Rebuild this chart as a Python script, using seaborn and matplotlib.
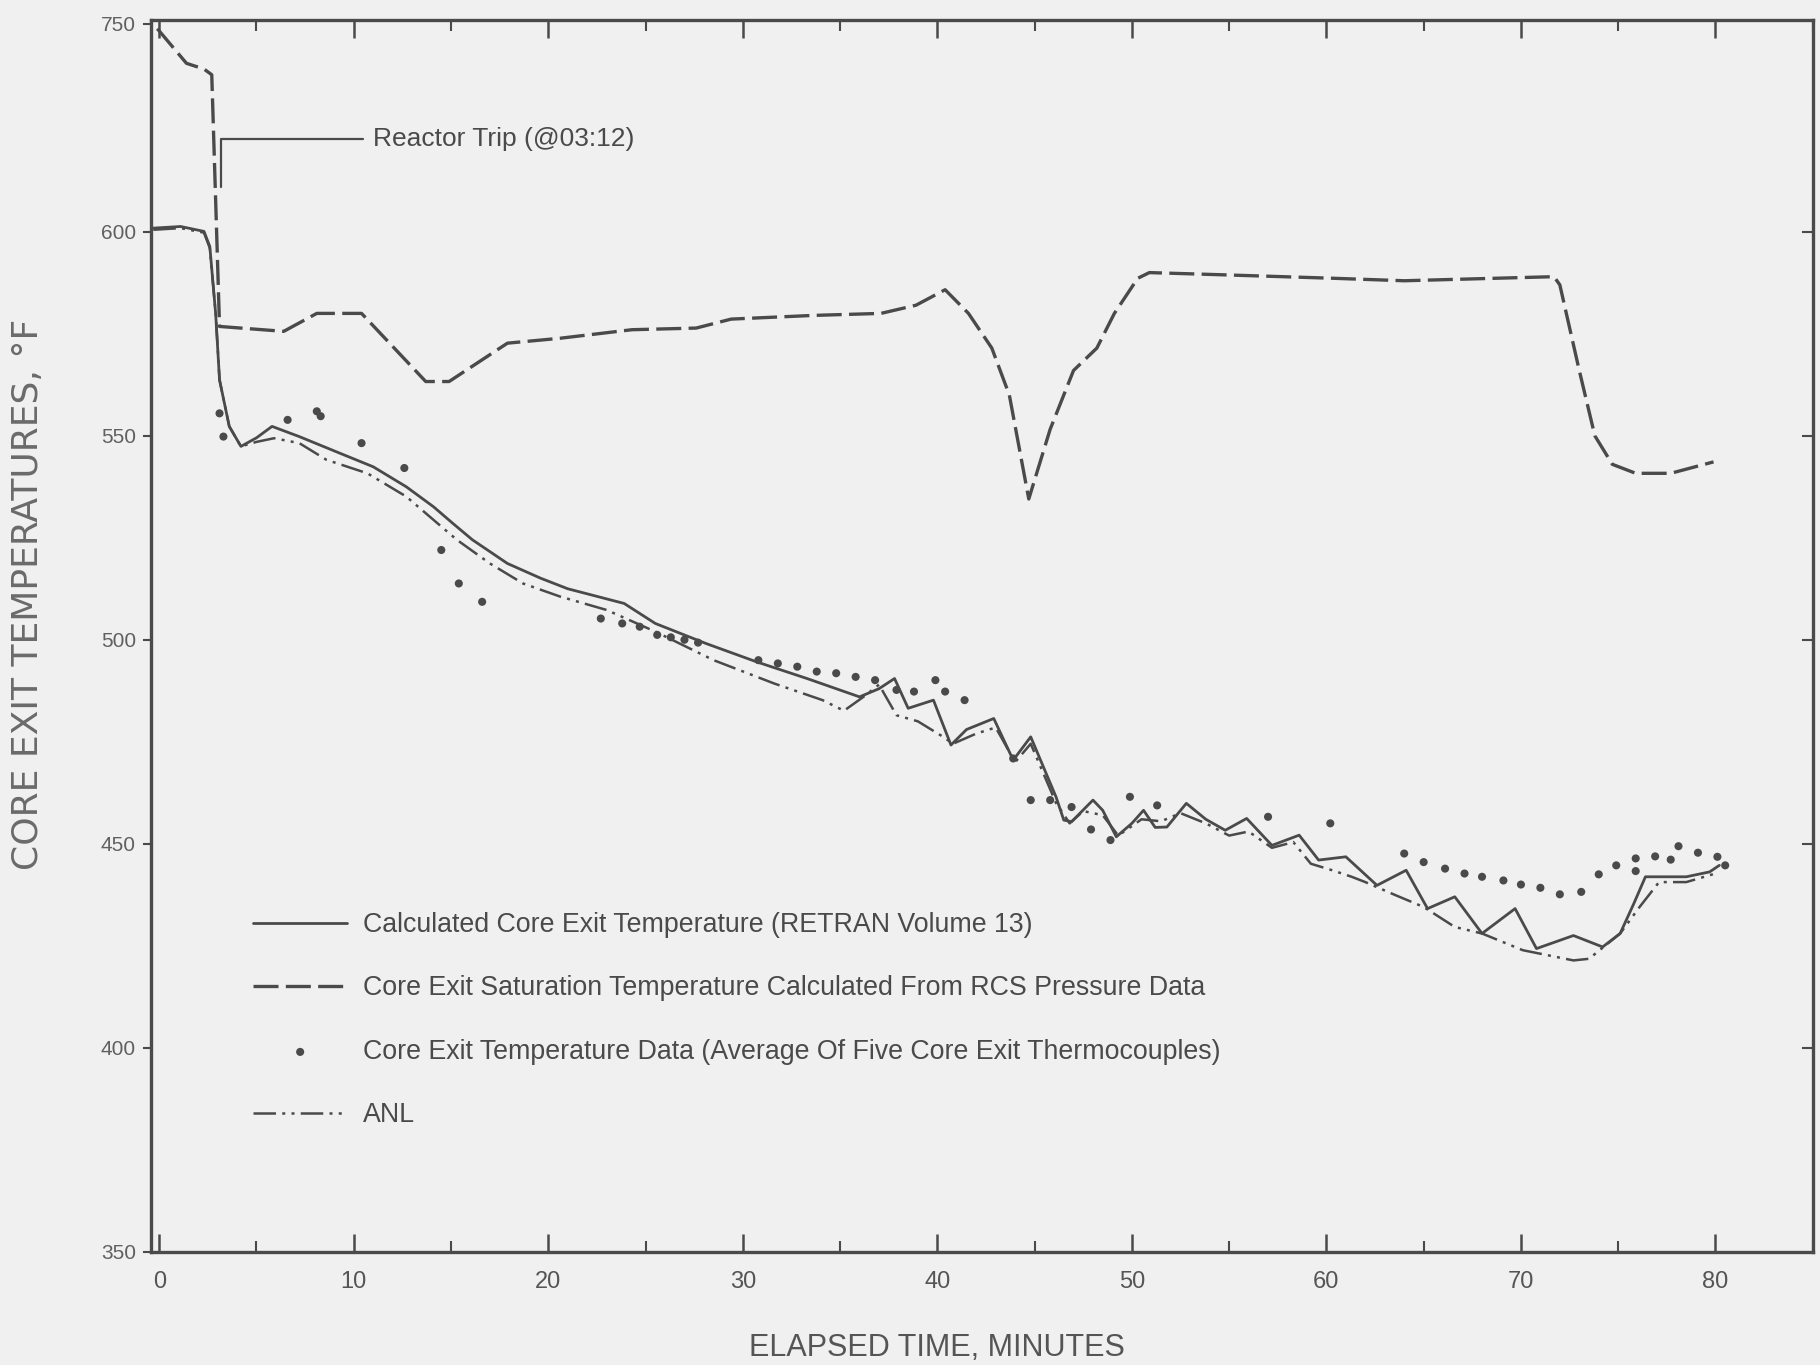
import matplotlib
matplotlib.use('Agg')
import matplotlib.pyplot as plt
import pandas as pd
import seaborn as sns
from matplotlib.ticker import MultipleLocator

# Values (minutes, deg F as drawn on the axis)
sat_t = [-0.1, 1.4, 2.3, 2.7, 2.95, 3.1, 6.4, 8.1, 10.4, 13.7, 14.9, 17.9, 20.6,
         24.3, 27.6, 29.4, 33.6, 37.1, 38.9, 40.4, 41.6, 42.8, 43.7, 44.7, 45.8,
         47.0, 48.2, 49.1, 50.3, 50.9, 54.4, 60.4, 64.0, 71.7, 72.0, 73.0, 73.8,
         74.7, 75.9, 77.7, 79.9]
sat_v = [649.8, 641.3, 639.9, 638.5, 600.0, 576.8, 575.6, 580.0, 580.0, 563.3,
         563.3, 572.7, 573.9, 576.0, 576.4, 578.6, 579.5, 580.0, 582.0, 585.8,
         580.0, 571.5, 560.0, 534.5, 551.6, 566.0, 571.5, 580.0, 588.6, 590.0,
         589.5, 588.6, 588.0, 589.0, 587.0, 566.0, 550.0, 543.0, 540.8, 540.8,
         543.6]

calc_t = [-0.3, 1.1, 2.3, 2.6, 2.9, 3.1, 3.6, 4.2, 5.0, 5.8, 7.2, 9.3, 11.0, 12.7,
          14.1, 15.1, 16.1, 17.9, 19.6, 21.0, 23.9, 25.5, 28.1, 30.7, 33.3, 36.0,
          37.0, 37.8, 38.5, 39.8, 40.7, 41.5, 42.9, 43.9, 44.8, 46.1, 46.5, 46.9,
          48.0, 48.5, 49.2, 50.0, 50.6, 51.2, 51.8, 52.8, 53.8, 54.8, 55.9, 57.2,
          58.6, 59.6, 61.0, 62.6, 64.1, 65.2, 66.6, 68.0, 69.7, 70.8, 72.7, 74.2,
          75.1, 75.8, 76.4, 78.5, 79.7, 80.2]
calc_v = [600.9, 601.3, 600.1, 596.4, 580.0, 563.7, 552.3, 547.4, 549.5, 552.3,
          549.8, 545.7, 542.4, 537.5, 532.6, 528.5, 524.5, 518.7, 515.1, 512.5,
          508.9, 504.0, 499.1, 494.6, 490.5, 486.0, 488.0, 490.5, 483.2, 485.2,
          474.2, 478.0, 480.7, 470.5, 476.2, 461.5, 455.8, 455.4, 460.7, 458.2,
          451.7, 455.0, 458.2, 454.0, 454.1, 459.9, 456.0, 453.3, 456.2, 449.6,
          452.1, 446.0, 446.8, 439.8, 443.5, 434.1, 437.0, 428.0, 434.1, 424.3,
          427.5, 424.7, 428.0, 435.3, 441.9, 441.9, 443.1, 444.7]

anl_t = [-0.3, 1.1, 2.3, 2.6, 2.9, 3.1, 3.6, 4.2, 5.0, 5.9, 7.2, 8.6, 10.7, 12.7,
         13.9, 15.3, 17.0, 18.7, 20.6, 23.0, 25.5, 28.5, 31.6, 34.1, 35.2, 36.2,
         37.0, 37.9, 39.0, 40.3, 40.8, 42.0, 43.0, 44.0, 44.8, 46.1, 46.8, 47.5,
         48.5, 49.3, 50.5, 51.5, 52.5, 53.8, 55.0, 56.0, 57.2, 58.3, 59.2, 60.3,
         61.3, 62.0, 63.5, 65.0, 66.6, 68.0, 70.1, 72.7, 73.5, 75.1, 76.1, 77.1,
         78.5, 80.0]
anl_v = [600.5, 600.9, 599.8, 596.0, 580.0, 563.7, 552.3, 547.4, 548.5, 549.4,
         548.2, 544.1, 540.8, 535.1, 530.2, 524.5, 518.7, 513.8, 510.6, 507.3,
         502.0, 495.0, 489.3, 485.2, 482.6, 486.0, 489.0, 481.5, 480.0, 476.2,
         474.5, 477.0, 478.5, 470.0, 474.5, 460.0, 455.0, 458.0, 457.0, 452.0,
         456.0, 455.5, 457.5, 455.0, 452.0, 453.0, 449.0, 450.4, 445.1, 443.5,
         441.9, 440.6, 437.5, 434.5, 429.6, 428.0, 423.9, 421.4, 421.8, 428.0,
         434.5, 440.6, 440.6, 442.7]

tc_t = [3.1, 3.3, 6.6, 8.1, 8.3, 10.4, 12.6, 14.5, 15.4, 16.6, 22.7, 23.8, 24.7,
        25.6, 26.3, 27.0, 27.7, 30.8, 31.8, 32.8, 33.8, 34.8, 35.8, 36.8, 37.9,
        38.8, 39.9, 40.4, 41.4, 43.9, 44.8, 45.8, 46.9, 47.9, 48.9, 49.9, 51.3,
        57.0, 60.2, 64.0, 65.0, 66.1, 67.1, 68.0, 69.1, 70.0, 71.0, 72.0, 73.1,
        74.0, 74.9, 75.9, 75.9, 76.9, 77.7, 78.1, 79.1, 80.1, 80.5]
tc_v = [555.5, 549.8, 553.9, 556.0, 554.8, 548.2, 542.1, 522.0, 513.8, 509.3,
        505.2, 504.0, 503.2, 501.2, 500.6, 500.0, 499.3, 495.0, 494.2, 493.4,
        492.2, 491.8, 490.9, 490.1, 487.7, 487.3, 490.1, 487.3, 485.2, 470.9,
        460.7, 460.7, 459.0, 453.5, 450.9, 461.5, 459.4, 456.6, 455.0, 447.6,
        445.5, 443.9, 442.7, 441.9, 441.0, 440.0, 439.2, 437.6, 438.2, 442.5,
        444.7, 446.4, 443.3, 446.9, 446.1, 449.4, 447.8, 446.8, 444.7]

trip_t = 3.2  # reactor trip at 03:12

xtick_pos = [0, 10, 20, 30, 40, 50, 60, 70, 80]
ytick_pos = [350, 400, 450, 500, 550, 600, 651]
ytick_lab = ['350', '400', '450', '500', '550', '600', '750']

lab_calc = 'Calculated Core Exit Temperature (RETRAN Volume 13)'
lab_sat = 'Core Exit Saturation Temperature Calculated From RCS Pressure Data'
lab_tc = 'Core Exit Temperature Data (Average Of Five Core Exit Thermocouples)'
lab_anl = 'ANL'

sns.set_theme(style='ticks')
plt.rcParams['font.family'] = ['Liberation Sans Narrow', 'Liberation Sans', 'DejaVu Sans']

ink = '#4a4a4a'
paper = '#f0f0f0'

fig = plt.figure(figsize=(18.2, 13.65), dpi=100, facecolor=paper)
ax = fig.add_axes([0.083, 0.083, 0.913, 0.902])
ax.set_facecolor(paper)

df_sat = pd.DataFrame({'t': sat_t, 'v': sat_v})
df_calc = pd.DataFrame({'t': calc_t, 'v': calc_v})
df_anl = pd.DataFrame({'t': anl_t, 'v': anl_v})
df_tc = pd.DataFrame({'t': tc_t, 'v': tc_v})

sns.lineplot(data=df_calc, x='t', y='v', ax=ax, color=ink, lw=2.0,
             estimator=None, sort=False, label=lab_calc)
sns.lineplot(data=df_sat, x='t', y='v', ax=ax, color=ink, lw=2.4,
             estimator=None, sort=False, label=lab_sat, linestyle=(0, (7.5, 2.2)))
sns.scatterplot(data=df_tc, x='t', y='v', ax=ax, color=ink, s=34,
                edgecolor='none', label=lab_tc)
sns.lineplot(data=df_anl, x='t', y='v', ax=ax, color=ink, lw=1.8,
             estimator=None, sort=False, label=lab_anl,
             linestyle=(0, (9, 2.5, 1.2, 2.5, 1.2, 2.5)))

ax.annotate('Reactor Trip (@03:12)', xy=(trip_t, 611), xytext=(11.0, 622.8),
            va='center', ha='left', fontsize=19, color=ink,
            arrowprops=dict(arrowstyle='-', color=ink, lw=1.6, shrinkA=5, shrinkB=0,
                            connectionstyle='angle,angleA=0,angleB=90,rad=0'))

ax.set_xlim(-0.42, 85)
ax.set_ylim(350, 651.8)
ax.set_xticks(xtick_pos)
ax.xaxis.set_minor_locator(MultipleLocator(5))
ax.set_yticks(ytick_pos)
ax.set_yticklabels(ytick_lab)

ax.tick_params(axis='x', which='both', direction='in', top=True, bottom=True,
               color=ink, labelcolor='#555555', labelsize=17, pad=14)
ax.tick_params(axis='x', which='major', length=13, width=1.8)
ax.tick_params(axis='x', which='minor', length=8, width=1.5)
ax.tick_params(axis='y', which='major', direction='out', length=6, width=1.5,
               color=ink, labelcolor='#606060', labelsize=15, pad=5)

sec = ax.secondary_yaxis('right')
sec.set_yticks(ytick_pos[1:-1])
sec.tick_params(direction='in', length=8, width=1.5, color=ink, labelright=False)
sec.spines['right'].set_color(ink)
sec.spines['right'].set_linewidth(2.0)

for side in ['left', 'right', 'top', 'bottom']:
    ax.spines[side].set_color(ink)
    ax.spines[side].set_linewidth(2.4)

ax.set_xlabel('ELAPSED TIME, MINUTES', fontsize=22, color='#555555')
ax.xaxis.set_label_coords(0.473, -0.066)
ax.set_ylabel('CORE EXIT TEMPERATURES, °F', fontsize=26, color='#6a6a6a',
              family=['DejaVu Sans'])
ax.yaxis.set_label_coords(-0.064, 0.534)

handles, labels = ax.get_legend_handles_labels()
leg = ax.legend(handles, labels, loc='upper left', bbox_to_anchor=(0.0615, 0.276),
                frameon=False, fontsize=19.3, handlelength=3.5, handletextpad=0.6,
                labelspacing=1.4, borderpad=0, borderaxespad=0, scatterpoints=1)
for txt in leg.get_texts():
    txt.set_color(ink)

fig.savefig('out.png', dpi=100, facecolor=paper)
